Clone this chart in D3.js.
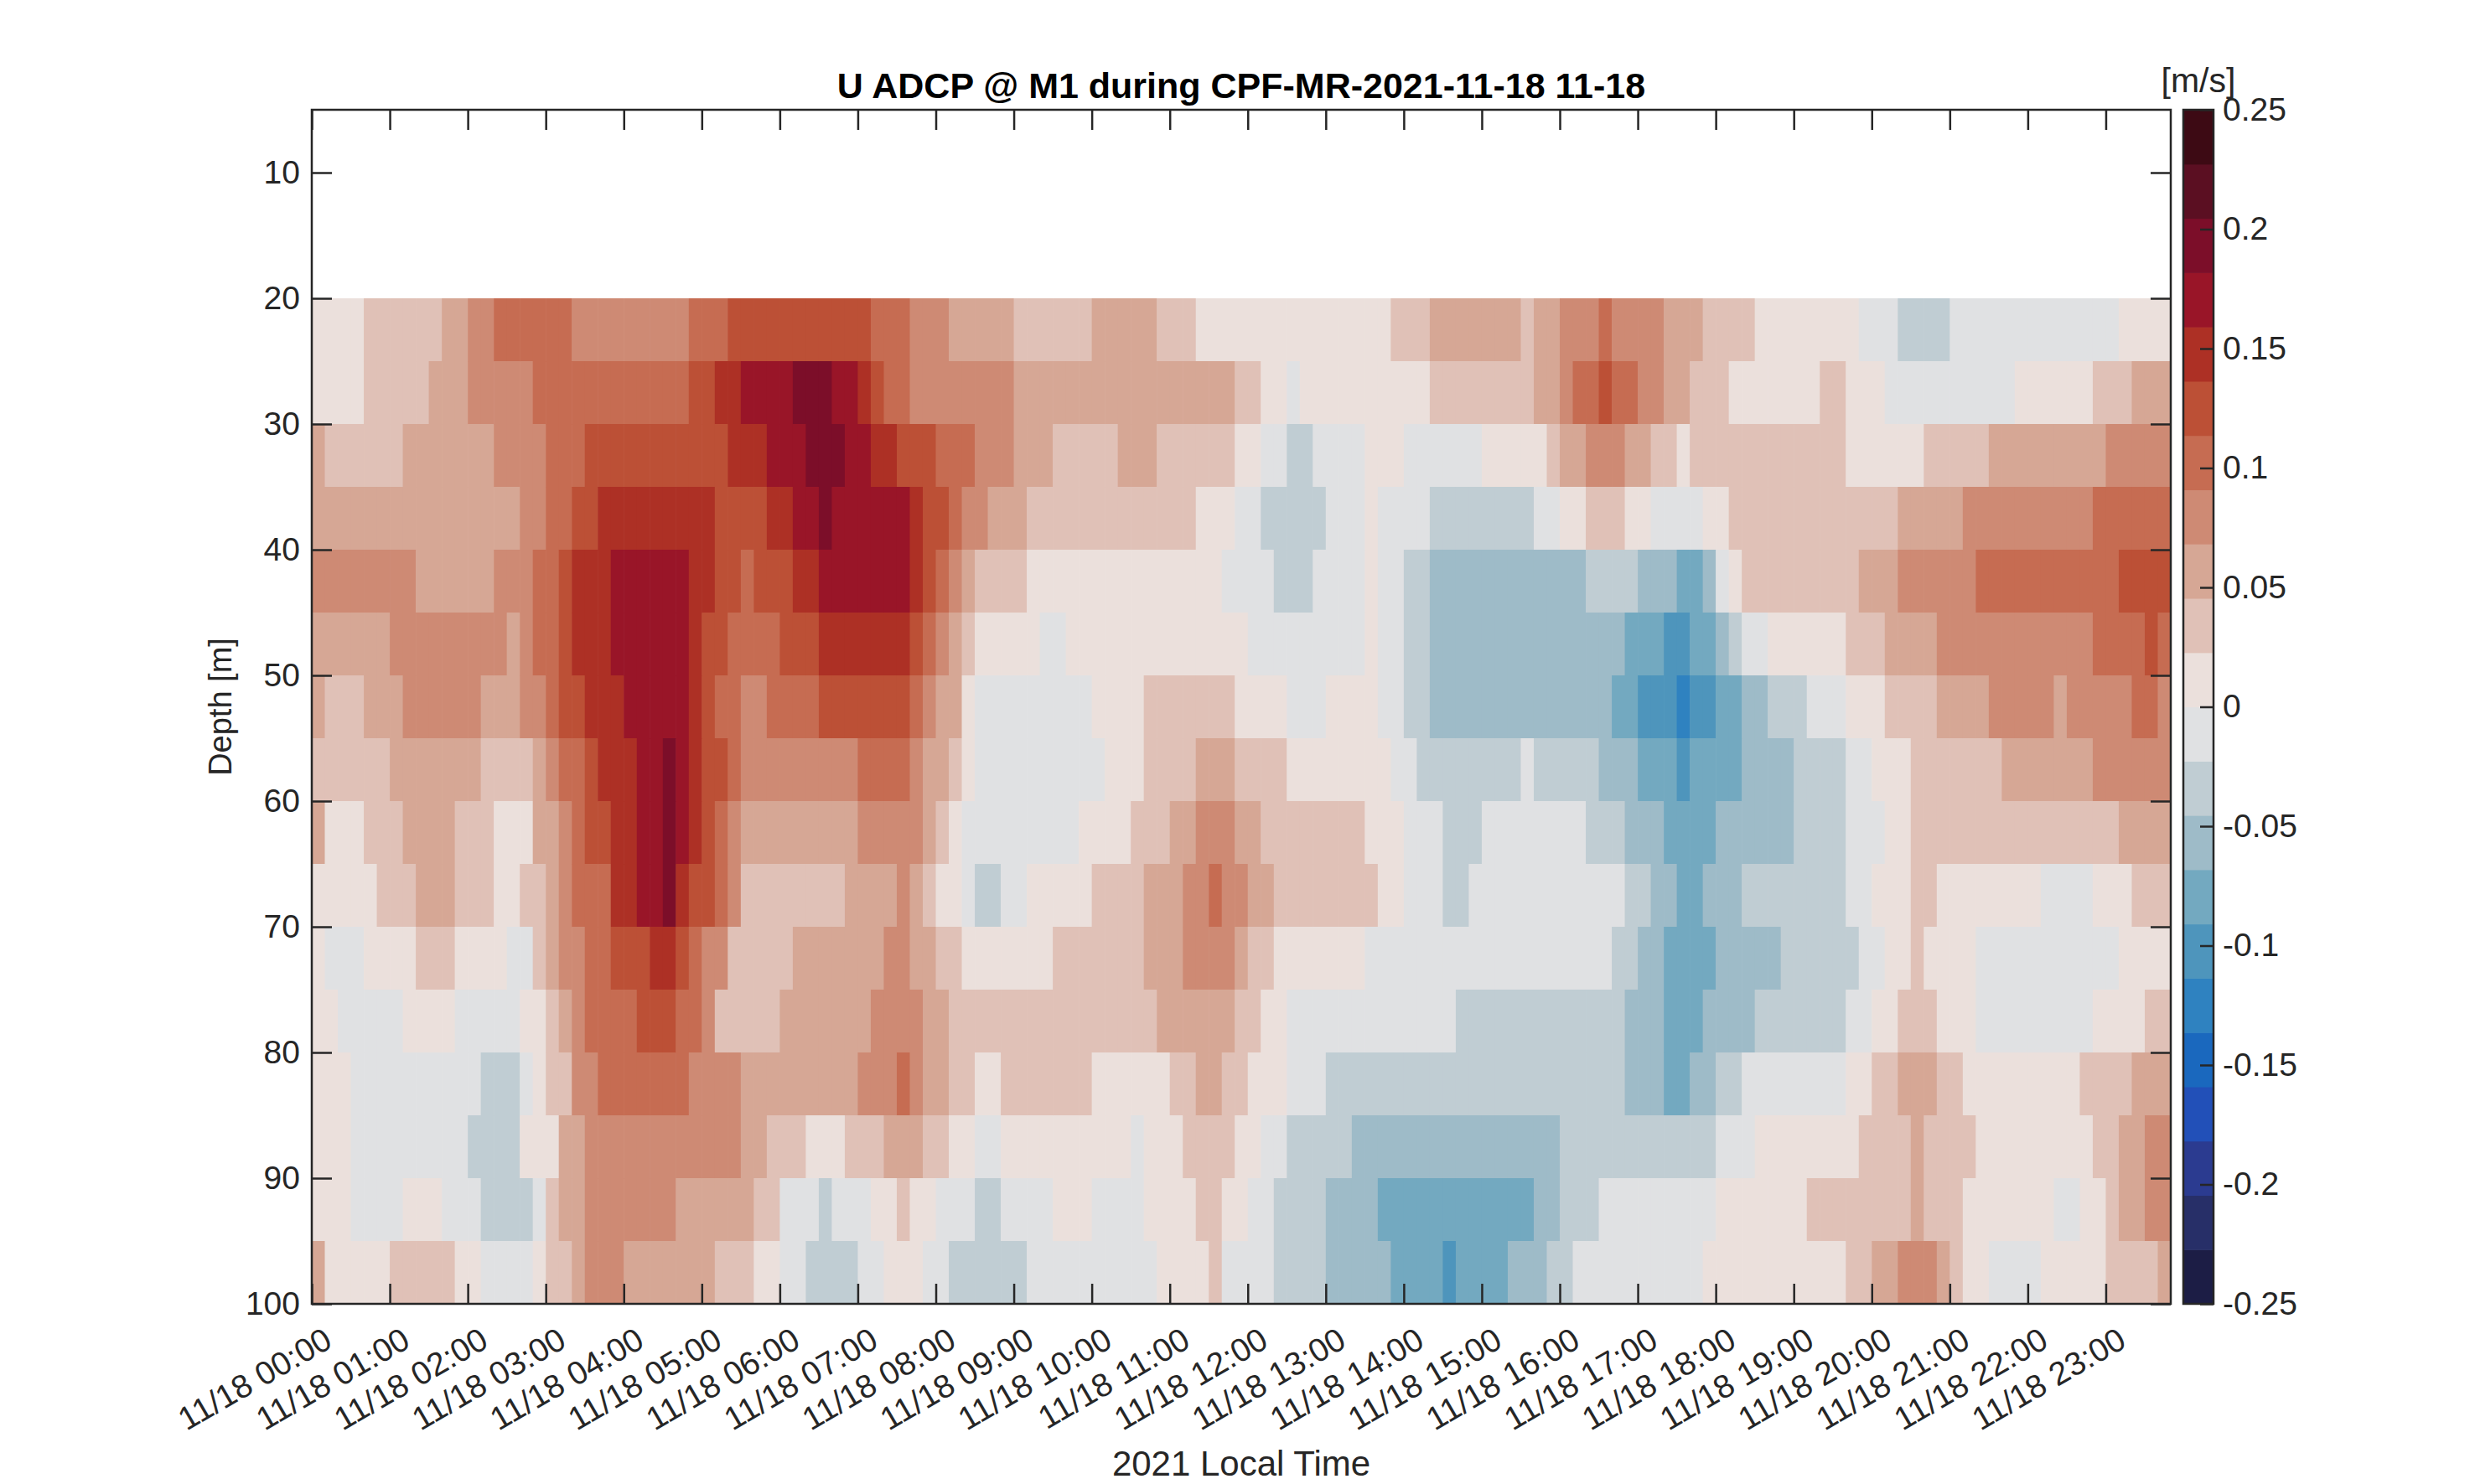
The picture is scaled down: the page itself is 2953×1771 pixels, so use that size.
<!DOCTYPE html>
<html>
<head>
<meta charset="utf-8">
<script src="https://cdn.jsdelivr.net/npm/d3@7"></script>
<style>
  body { margin: 0; background: #fff; }
  text { font-family: "Liberation Sans", Arial, Helvetica, sans-serif; }
</style>
</head>
<body>
<script>
// depth bin edges [m]
const depthEdges = [20, 25, 30, 35, 40, 45, 50, 55, 60, 65, 70, 75, 80, 85, 90, 95, 100];

// U velocity [cm/s] per 5 m depth bin, 143 ten-minute columns from 00:00
const u20 = [1,1,1,1, 3,3,3,3,3,3, 6,6, 8,8, 10,10,10,10,10,10, 8,8,8,8,8,8,8,8,8, 10,10,10, 12,12,12,12,12,12,12,12,12,12,12, 10,10,10, 8,8,8, 6,6,6,6,6, 3,3,3,3,3,3, 6,6,6,6,6, 3,3,3, 1,1,1,1,1,1,1,1,1,1,1,1,1,1,1, 3,3,3, 6,6,6,6,6,6,6, 3, 6,6, 8,8,8, 10, 8,8,8,8, 6,6,6, 3,3,3,3, 1,1,1,1,1,1,1,1, -1,-1,-1, -3,-3,-3,-3, -1,-1,-1,-1,-1,-1,-1,-1,-1,-1,-1,-1,-1, 1,1,1,1];
const u25 = [1,1,1,1, 3,3,3,3,3, 6,6,6, 8,8,8,8,8, 10,10,10,10,10,10,10,10,10,10,10,10, 12,12, 15,15, 17,17,17,17, 19,19,19, 17,17, 15, 12, 10,10, 8,8,8,8,8,8,8,8, 6,6,6,6,6,6,6,6,6,6,6,6,6,6,6,6,6, 3,3, 1,1, -1, 1,1,1,1,1,1,1,1,1,1, 3,3,3,3,3,3,3,3, 6,6, 8, 10,10, 12, 10,10, 8,8, 6,6, 3,3,3, 1,1,1,1,1,1,1, 3,3, 1,1,1, -1,-1,-1,-1,-1,-1,-1,-1,-1,-1, 1,1,1,1,1,1, 3,3,3, 6,6,6];
const u30 = [6, 3,3,3,3,3,3, 6,6,6,6,6,6,6, 8,8,8,8, 10,10,10, 12,12,12,12,12,12,12,12,12,12,12, 15,15,15, 17,17,17, 19,19,19, 17,17, 15,15, 12,12,12, 10,10,10, 8,8,8, 6,6,6, 3,3,3,3,3, 6,6,6, 3,3,3,3,3,3, 1,1, -1,-1, -3,-3, -1,-1,-1,-1, 1,1,1, -1,-1,-1,-1,-1,-1, 1,1,1,1,1, 3, 6,6, 8,8,8, 6,6, 3,3, 1, 3,3,3,3,3,3,3,3,3,3,3,3, 1,1,1,1,1,1, 3,3,3,3,3, 6,6,6,6,6,6,6,6,6, 8,8,8,8,8];
const u35 = [6,6,6,6,6,6,6,6,6,6,6,6,6,6,6,6, 8,8, 10,10, 12,12, 15,15,15,15,15,15,15,15,15, 12,12,12,12, 15,15, 17,17, 19, 17,17,17,17,17,17, 15, 12,12, 10, 8,8, 6,6,6, 3,3,3,3,3,3,3,3,3,3,3,3,3, 1,1,1, -1,-1, -3,-3,-3,-3,-3, -1,-1,-1, 1, -1,-1,-1,-1, -3,-3,-3,-3,-3,-3,-3,-3, -1,-1, 1,1, 3,3,3, 1,1, -1,-1,-1,-1, 1,1, 3,3,3,3,3,3,3,3,3,3,3,3,3, 6,6,6,6,6, 8,8,8,8,8,8,8,8,8,8, 10,10,10,10,10,10];
const u40 = [8,8,8,8,8,8,8,8, 6,6,6,6,6,6, 8,8,8, 10,10, 12, 15,15,15, 17,17,17,17,17,17, 15,15, 12,12, 10, 12,12,12, 15,15, 17,17,17,17,17,17,17, 15, 12, 10, 8, 6, 3,3,3,3, 1,1,1,1,1,1,1,1,1,1,1,1,1,1,1, -1,-1,-1,-1, -3,-3,-3, -1,-1,-1,-1, 1, -1,-1, -3,-3, -6,-6,-6,-6,-6,-6,-6,-6,-6,-6,-6,-6, -3,-3,-3,-3, -6,-6,-6, -8,-8, -6, -1, 1, 3,3,3,3,3,3,3,3,3, 6,6,6, 8,8,8,8,8,8, 10,10,10,10,10,10,10,10,10,10,10, 12,12,12,12];
const u45 = [6,6,6,6,6,6, 8,8,8,8,8,8,8,8,8, 6, 8, 10,10, 12, 15,15,15, 17,17,17,17,17,17, 15, 12,12, 10,10,10,10, 12,12,12, 15,15,15,15,15,15,15, 12, 10, 8, 6, 3, 1,1,1,1,1, -1,-1, 1,1,1,1,1,1,1,1,1,1,1,1,1,1, -1,-1,-1,-1,-1,-1,-1,-1,-1, 1, -1,-1, -3,-3, -6,-6,-6,-6,-6,-6,-6,-6,-6,-6,-6,-6,-6,-6,-6, -8,-8,-8, -10,-10, -8,-8, -6, -3, -1,-1, 1,1,1,1,1,1, 3,3,3, 6,6,6,6, 8,8,8,8,8,8,8,8,8,8,8,8, 10,10,10,10, 12, 10];
const u50 = [6, 3,3,3, 6,6,6, 8,8,8,8,8,8, 6,6,6, 8,8, 10, 12,12, 15,15,15, 17,17,17,17,17, 15, 12, 10,10, 8,8, 10,10,10,10, 12,12,12,12,12,12,12, 10, 8, 6,6, 1, -1,-1,-1,-1,-1,-1,-1,-1,-1, 1,1,1,1, 3,3,3,3,3,3,3, 1,1,1,1, -1,-1,-1, 1,1,1,1, -1,-1, -3,-3, -6,-6,-6,-6,-6,-6,-6,-6,-6,-6,-6,-6,-6,-6, -8,-8, -10,-10,-10, -12, -10,-10, -8,-8, -6,-6, -3,-3,-3, -1,-1,-1, 1,1,1, 3,3,3,3, 6,6,6,6, 8,8,8,8,8, 6, 8,8,8,8,8, 10,10, 8];
const u55 = [3,3,3,3,3,3, 6,6,6,6,6,6,6, 3,3,3,3, 6, 8, 10,10, 12, 15,15,15, 17,17, 19, 17, 15, 12,12, 10, 8,8,8,8,8,8,8,8,8, 10,10,10,10, 8, 6,6, 3, 1, -1,-1,-1,-1,-1,-1,-1,-1,-1,-1, 1,1,1, 3,3,3,3, 6,6,6, 3,3,3,3, 1,1,1,1,1,1,1,1, -1,-1, -3,-3,-3,-3,-3,-3,-3,-3, -1, -3,-3,-3,-3,-3, -6,-6,-6, -8,-8,-8, -10, -8,-8,-8,-8, -6,-6,-6,-6, -3,-3,-3,-3, -1,-1, 1,1,1, 3,3,3,3,3,3,3, 6,6,6,6,6,6,6, 8,8,8,8,8,8];
const u60 = [6, 1,1,1, 3,3,3, 6,6,6,6, 3,3,3, 1,1,1, 6,6, 8, 10, 12,12, 15,15, 17,17, 19, 17, 15, 12, 10, 8, 6,6,6,6,6,6,6,6,6, 8,8,8,8,8, 6, 3, 1, -1,-1,-1,-1,-1,-1,-1,-1,-1, 1,1,1,1, 3,3,3, 6,6, 8,8,8, 6,6, 3,3,3,3,3,3,3,3, 1,1,1, -1,-1,-1, -3,-3,-3, -1,-1,-1,-1,-1,-1,-1,-1, -3,-3,-3, -6,-6,-6, -8,-8,-8,-8, -6,-6,-6,-6,-6,-6, -3,-3,-3,-3, -1,-1,-1, 1,1, 3,3,3,3,3,3,3,3,3,3,3,3,3,3,3,3, 6,6,6,6];
const u65 = [1,1,1,1,1, 3,3,3, 6,6,6, 3,3,3, 1,1, 3,3, 6, 8, 10,10,10, 15,15, 17,17, 19, 15, 12,12, 10, 8, 3,3,3,3,3,3,3,3, 6,6,6,6, 8, 6, 3, 1,1, -1, -3,-3, -1,-1, 1,1,1,1,1, 3,3,3,3, 6,6,6, 8,8, 10, 8,8, 6,6, 3,3,3,3,3,3,3,3, 1,1, -1,-1,-1, -3,-3, -1,-1,-1,-1,-1,-1,-1,-1,-1,-1,-1,-1, -3,-3, -6,-6, -8,-8, -6,-6,-6, -3,-3,-3,-3,-3,-3,-3,-3, -1,-1, 1,1,1, 3,3, 1,1,1,1,1,1,1,1, -1,-1,-1,-1, 1,1,1, 3,3,3];
const u70 = [1, -1,-1,-1, 1,1,1,1, 3,3,3, 1,1,1,1, -1,-1, 3, 6, 8,8, 10,10, 12,12,12, 15,15, 12, 10, 8,8, 3,3,3,3,3, 6,6,6,6,6,6,6, 8,8, 6,6, 3,3, 1,1,1,1,1,1,1, 3,3,3,3,3,3,3, 6,6,6, 8,8,8,8, 6, 3,3, 1,1,1,1,1,1,1, -1,-1,-1,-1,-1,-1,-1,-1,-1,-1,-1,-1,-1,-1,-1,-1,-1,-1,-1, -3,-3, -6,-6, -8,-8,-8,-8, -6,-6,-6,-6,-6, -3,-3,-3,-3,-3,-3, -1,-1, 1,1, 3, 1,1,1,1, -1,-1,-1,-1,-1,-1,-1,-1,-1,-1,-1, 1,1,1,1];
const u75 = [1,1, -1,-1,-1,-1,-1, 1,1,1,1, -1,-1,-1,-1,-1, 1,1, 3, 6, 8, 10,10,10,10, 12,12,12, 10,10, 8, 3,3,3,3,3, 6,6,6,6,6,6,6, 8,8,8,8, 6,6, 3,3,3,3,3,3,3,3,3,3,3,3,3,3,3,3, 6,6,6,6,6,6, 3,3, 1,1, -1,-1,-1,-1,-1,-1,-1,-1,-1,-1,-1,-1,-1, -3,-3,-3,-3,-3,-3,-3,-3,-3,-3,-3,-3,-3, -6,-6,-6, -8,-8,-8, -6,-6,-6,-6, -3,-3,-3,-3,-3,-3,-3, -1,-1, 1,1, 3,3,3, 1,1,1, -1,-1,-1,-1,-1,-1,-1,-1,-1, 1,1,1,1, 3,3];
const u80 = [1,1,1, -1,-1,-1,-1,-1,-1,-1,-1,-1,-1, -3,-3,-3, -1, 1, 3,3, 8,8, 10,10,10,10,10,10,10, 8,8,8,8, 6,6,6,6,6,6,6,6,6, 8,8,8, 10, 8, 6,6, 3,3, 1,1, 3,3,3,3,3,3,3, 1,1,1,1,1,1, 3,3, 6,6, 3,3, 1,1,1, -1,-1,-1, -3,-3,-3,-3,-3,-3,-3,-3,-3,-3,-3,-3,-3,-3,-3,-3,-3,-3,-3,-3,-3,-3,-3, -6,-6,-6, -8,-8, -6,-6, -3,-3, -1,-1,-1,-1,-1,-1,-1,-1, 1,1, 3,3, 6,6,6, 3,3, 1,1,1,1,1,1,1,1,1, 3,3,3,3, 6,6,6];
const u85 = [1,1,1, -1,-1,-1,-1,-1,-1,-1,-1,-1, -3,-3,-3,-3, 1,1,1, 6,6, 8,8,8,8,8,8,8,8,8,8,8,8, 6,6, 3,3,3, 1,1,1, 3,3,3, 6,6,6, 3,3, 1,1, -1,-1, 1,1,1,1,1,1,1,1,1,1, -1, 1,1,1, 3,3,3,3, 1,1, -1,-1, -3,-3,-3,-3,-3, -6,-6,-6,-6,-6,-6,-6,-6,-6,-6,-6,-6,-6,-6,-6,-6, -3,-3,-3,-3,-3,-3,-3,-3,-3,-3,-3,-3, -1,-1,-1, 1,1,1,1,1,1,1,1, 3,3,3,3, 6, 3,3,3,3, 1,1,1,1,1,1,1,1,1, 3,3, 6,6, 8,8];
const u90 = [1,1,1, -1,-1,-1,-1, 1,1,1, -1,-1,-1, -3,-3,-3,-3, -1, 3, 6,6, 8,8,8,8,8,8,8, 6,6,6,6,6,6, 3,3, -1,-1,-1, -3, -1,-1,-1, 1,1, 3, 1,1, -1,-1,-1, -3,-3, -1,-1,-1,-1, 1,1,1, -1,-1,-1,-1, 1,1,1,1, 3,3, 1,1, -1,-1, -3,-3,-3,-3, -6,-6,-6,-6, -8,-8,-8,-8,-8,-8,-8,-8,-8,-8,-8,-8, -6,-6, -3,-3,-3, -1,-1,-1,-1,-1,-1,-1,-1,-1, 1,1,1,1,1,1,1, 3,3,3,3,3,3,3,3, 6, 3,3,3, 1,1,1,1,1,1,1, -1,-1, 1,1, 3, 6,6, 8,8];
const u95 = [6, 1,1,1,1,1, 3,3,3,3,3, 1,1, -1,-1,-1,-1, 1, 3,3, 6, 8,8,8, 6,6,6,6,6,6,6, 3,3,3, 1,1, -1,-1, -3,-3,-3,-3, -1,-1, 1,1,1, -1,-1, -3,-3,-3,-3,-3,-3, -1,-1,-1,-1,-1,-1,-1,-1,-1,-1, 1,1,1,1, 3, -1,-1,-1,-1, -3,-3,-3,-3, -6,-6,-6,-6,-6, -8,-8,-8,-8, -10, -8,-8,-8,-8, -6,-6,-6, -3,-3, -1,-1,-1,-1,-1,-1,-1,-1,-1,-1, 1,1,1,1,1,1,1,1,1,1,1, 3,3, 6,6, 8,8,8, 6, 3, 1,1, -1,-1,-1,-1, 1,1,1,1,1, 3,3,3,3, 6];

const uRows = [u20, u25, u30, u35, u40, u45, u50, u55, u60, u65, u70, u75, u80, u85, u90, u95];

const depthTicks = [10, 20, 30, 40, 50, 60, 70, 80, 90, 100];
const hourLabels = ["11/18 00:00", "11/18 01:00", "11/18 02:00", "11/18 03:00", "11/18 04:00", "11/18 05:00",
  "11/18 06:00", "11/18 07:00", "11/18 08:00", "11/18 09:00", "11/18 10:00", "11/18 11:00",
  "11/18 12:00", "11/18 13:00", "11/18 14:00", "11/18 15:00", "11/18 16:00", "11/18 17:00",
  "11/18 18:00", "11/18 19:00", "11/18 20:00", "11/18 21:00", "11/18 22:00", "11/18 23:00"];
const cbarTicks = [0.25, 0.2, 0.15, 0.1, 0.05, 0, -0.05, -0.1, -0.15, -0.2, -0.25];
const cbarLabels = ["0.25", "0.2", "0.15", "0.1", "0.05", "0", "-0.05", "-0.1", "-0.15", "-0.2", "-0.25"];

// 22-step diverging colormap, from -0.25 to 0.25
const palette = ["#1c1d45", "#272f68", "#2b3b90", "#2250b8", "#1a68be", "#2f82c0", "#4e95bc",
  "#73a9c0", "#9ebbc8", "#c0cdd3", "#e0e1e3", "#ebe0dc", "#e0c1b7", "#d6a795", "#ce8a74",
  "#c66c52", "#bc5036", "#ad3025", "#991528", "#7c0e29", "#5b0f22", "#3d0a14"];

var width = 2953, height = 1771;
var plot = {left: 372, right: 2590, top: 131, bottom: 1556};
var ink = "#262626";
var tickFont = 39, labelFont = 42;

var svg = d3.select("body").append("svg")
    .attr("width", width)
    .attr("height", height);

// time axis: ten-minute columns
var t0 = new Date(Date.UTC(2021, 10, 18, 0, 0));
var tEnd = d3.utcMinute.offset(t0, 1430);
var timeEdges = d3.utcMinutes(t0, d3.utcMinute.offset(tEnd, 1), 10);
var hours = d3.utcHours(t0, tEnd);

var x = d3.scaleUtc().domain([t0, tEnd]).range([plot.left, plot.right]);
var y = d3.scaleLinear().domain([5, 100]).range([plot.top, plot.bottom]);
var color = d3.scaleQuantize().domain([-0.25, 0.25]).range(palette);

var cells = [];
uRows.forEach(function(row, r) {
  row.forEach(function(v, k) {
    cells.push({r: r, k: k, v: v / 100});
  });
});

svg.append("g")
  .selectAll("rect")
  .data(cells)
  .join("rect")
    .attr("x", d => x(timeEdges[d.k]))
    .attr("y", d => y(depthEdges[d.r]))
    .attr("width", d => x(timeEdges[d.k + 1]) - x(timeEdges[d.k]) + 0.6)
    .attr("height", d => y(depthEdges[d.r + 1]) - y(depthEdges[d.r]) + 0.6)
    .attr("fill", d => color(d.v));

// axes, ticks pointing inward on all four sides
function styleAxis(g) {
  g.select(".domain").remove();
  g.selectAll(".tick line").attr("stroke", ink).attr("stroke-width", 2.5);
  g.selectAll(".tick text").attr("fill", ink);
  g.attr("font-size", tickFont).attr("font-family", '"Liberation Sans", Arial, sans-serif');
}

var xBottom = svg.append("g")
    .attr("transform", "translate(0," + plot.bottom + ")")
    .call(d3.axisBottom(x).tickValues(hours).tickSizeInner(-24).tickSizeOuter(0)
      .tickFormat((d, i) => hourLabels[i]))
    .call(styleAxis);

xBottom.selectAll(".tick text")
    .attr("y", 0)
    .attr("dy", "0.72em")
    .attr("text-anchor", "end")
    .attr("transform", "translate(12,26) rotate(-30)");

svg.append("g")
    .attr("transform", "translate(0," + plot.top + ")")
    .call(d3.axisTop(x).tickValues(hours).tickSizeInner(-24).tickSizeOuter(0).tickFormat(""))
    .call(styleAxis);

svg.append("g")
    .attr("transform", "translate(" + plot.left + ",0)")
    .call(d3.axisLeft(y).tickValues(depthTicks).tickSizeInner(-24).tickSizeOuter(0).tickPadding(14))
    .call(styleAxis);

svg.append("g")
    .attr("transform", "translate(" + plot.right + ",0)")
    .call(d3.axisRight(y).tickValues(depthTicks).tickSizeInner(-24).tickSizeOuter(0).tickFormat(""))
    .call(styleAxis);

svg.append("rect")
    .attr("x", plot.left)
    .attr("y", plot.top)
    .attr("width", plot.right - plot.left)
    .attr("height", plot.bottom - plot.top)
    .attr("fill", "none")
    .attr("stroke", ink)
    .attr("stroke-width", 2.5);

// labels
svg.append("text")
    .attr("x", (plot.left + plot.right) / 2)
    .attr("y", 117)
    .attr("text-anchor", "middle")
    .attr("font-size", 43)
    .attr("font-weight", "bold")
    .attr("fill", "#000")
    .text("U ADCP @ M1 during CPF-MR-2021-11-18 11-18");

svg.append("text")
    .attr("x", (plot.left + plot.right) / 2)
    .attr("y", 1761)
    .attr("text-anchor", "middle")
    .attr("font-size", labelFont)
    .attr("fill", ink)
    .text("2021 Local Time");

svg.append("text")
    .attr("transform", "translate(276," + (plot.top + plot.bottom) / 2 + ") rotate(-90)")
    .attr("text-anchor", "middle")
    .attr("font-size", 38)
    .attr("fill", ink)
    .text("Depth [m]");

// colorbar
var cb = {left: 2605, right: 2641};
var cy = d3.scaleLinear().domain([-0.25, 0.25]).range([plot.bottom, plot.top]);
var step = 0.5 / palette.length;

svg.append("g")
  .selectAll("rect")
  .data(palette)
  .join("rect")
    .attr("x", cb.left)
    .attr("y", (c, i) => cy(-0.25 + (i + 1) * step))
    .attr("width", cb.right - cb.left)
    .attr("height", (c, i) => cy(-0.25 + i * step) - cy(-0.25 + (i + 1) * step) + 0.6)
    .attr("fill", c => c);

svg.append("g")
    .attr("transform", "translate(" + cb.right + ",0)")
    .call(d3.axisRight(cy).tickValues(cbarTicks).tickSizeInner(-16).tickSizeOuter(0).tickPadding(11)
      .tickFormat((d, i) => cbarLabels[i]))
    .call(styleAxis);

svg.append("rect")
    .attr("x", cb.left)
    .attr("y", plot.top)
    .attr("width", cb.right - cb.left)
    .attr("height", plot.bottom - plot.top)
    .attr("fill", "none")
    .attr("stroke", ink)
    .attr("stroke-width", 2.5);

svg.append("text")
    .attr("x", (cb.left + cb.right) / 2)
    .attr("y", 110)
    .attr("text-anchor", "middle")
    .attr("font-size", 41)
    .attr("fill", ink)
    .text("[m/s]");
</script>
</body>
</html>
